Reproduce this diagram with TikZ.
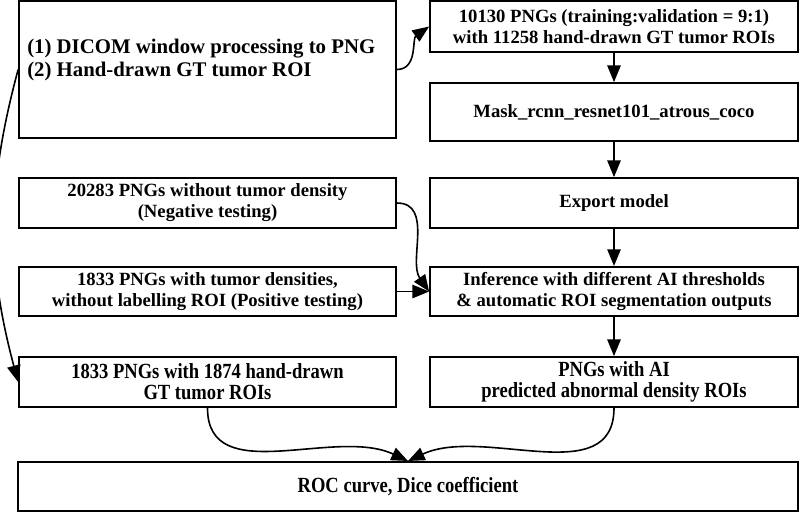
\documentclass[tikz,border=0pt]{standalone}
\usepackage{fontspec}
\setmainfont{Liberation Serif}
\newfontfamily\condensed[FakeStretch=0.86]{Liberation Serif}
\usetikzlibrary{arrows.meta}
\begin{document}
\begin{tikzpicture}[x=0.75pt,y=-0.75pt,
  box/.style={draw, line width=1.3pt, inner sep=0pt, align=center,
    font=\bfseries\fontsize{14}{15.75}\selectfont},
  lbox/.style={box, minimum width=282.75pt},
  rbox/.style={box, minimum width=276pt},
  cbox/.style={font=\condensed\bfseries\fontsize{16.2}{15.75}\selectfont},
  arr/.style={line width=1.2pt, -{Triangle[length=12.5pt,width=10pt]}}]
\useasboundingbox (0,0) rectangle (800,512);
% left column
\node[lbox, minimum height=102.75pt] (A) at (207.5,69.5) {};
\node[anchor=west, align=left, inner sep=0pt,
  font=\bfseries\fontsize{15.6}{17.25}\selectfont] (At) at (27,60)
  {(1) DICOM window processing to PNG\\(2) Hand-drawn GT tumor ROI};
\node[lbox, minimum height=37.5pt] (G) at (207.5,203) {20283 PNGs without tumor density\\(Negative testing)};
\node[lbox, minimum height=37pt] (H) at (207.5,291.5) {1833 PNGs with tumor densities,\\without labelling ROI (Positive testing)};
\node[lbox, cbox, minimum height=37.5pt] (I) at (207.5,382) {1833 PNGs with 1874 hand-drawn\\GT tumor ROIs};
% right column
\node[rbox, minimum height=38.25pt] (B) at (614,26.5) {10130 PNGs (training:validation = 9:1)\\with 11258 hand-drawn GT tumor ROIs};
\node[rbox, minimum height=43.5pt] (C) at (614,112) {Mask\_rcnn\_resnet101\_atrous\_coco};
\node[rbox, minimum height=37.5pt] (D) at (614,203) {Export model};
\node[rbox, minimum height=37pt] (E) at (614,291.5) {Inference with different AI thresholds\\\& automatic ROI segmentation outputs};
\node[rbox, cbox, minimum height=37.5pt] (F) at (614,382) {PNGs with AI\\predicted abnormal density ROIs};
% bottom
\node[box, cbox, minimum width=585pt, minimum height=37pt] (R) at (408,486.5) {ROC curve, Dice coefficient};
% connectors
\draw[arr] (A.east) to[out=0,in=215] (B.west);
\draw[arr] (A.west) to[out=255,in=105] (I.west);
\draw[arr] (B) -- (C);
\draw[arr] (C) -- (D);
\draw[arr] (D) -- (E);
\draw[arr] (E) -- (F);
\draw[arr] (G.east) to[out=0,in=125] (E.west);
\draw[arr] (H.east) -- (E.west);
\draw[arr] (I.south) to[out=270,in=155] (R.north);
\draw[arr] (F.south) to[out=270,in=25] (R.north);
\end{tikzpicture}
\end{document}
